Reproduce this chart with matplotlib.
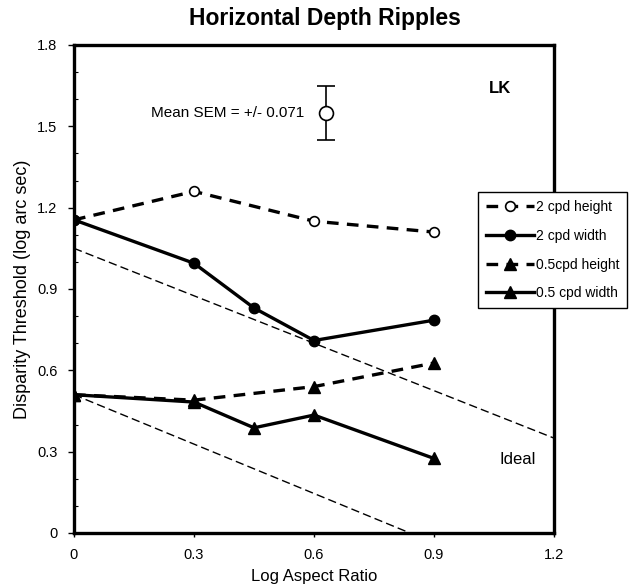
import matplotlib
matplotlib.use("Agg")
import matplotlib.pyplot as plt
from matplotlib.ticker import MultipleLocator

plt.rcParams['font.family'] = ['Liberation Sans', 'DejaVu Sans']

# Data
x_h2 = [0, 0.3, 0.6, 0.9]
y_h2 = [1.155, 1.26, 1.15, 1.11]
x_w2 = [0, 0.3, 0.45, 0.6, 0.9]
y_w2 = [1.155, 0.995, 0.83, 0.71, 0.785]
x_h05 = [0, 0.3, 0.6, 0.9]
y_h05 = [0.51, 0.49, 0.54, 0.627]
x_w05 = [0, 0.3, 0.45, 0.6, 0.9]
y_w05 = [0.51, 0.483, 0.388, 0.435, 0.275]
ideal_upper_x = [0, 1.2]
ideal_upper_y = [1.05, 0.35]
ideal_lower_x = [0, 0.84]
ideal_lower_y = [0.51, 0.0]
sem_x = [0.63]
sem_y = [1.548]
sem_err = [0.1]

fig = plt.figure(figsize=(6.34, 5.87), dpi=100)
ax = fig.add_axes([74/634, 1-533/587, 480/634, 488/587])

lw = 2.4
ax.plot(ideal_upper_x, ideal_upper_y, color='black', lw=1.0, dashes=(6, 3))
ax.plot(ideal_lower_x, ideal_lower_y, color='black', lw=1.0, dashes=(6, 3))

ax.plot(x_h2, y_h2, color='black', lw=lw, dashes=(3.5, 2.5), marker='o',
        markerfacecolor='white', markeredgecolor='black', markersize=7, mew=1.2,
        label='2 cpd height', zorder=3)
ax.plot(x_w2, y_w2, color='black', lw=lw, marker='o', markersize=7.5,
        label='2 cpd width', zorder=3)
ax.plot(x_h05, y_h05, color='black', lw=lw, dashes=(3.5, 2.5), marker='^',
        markersize=8.5, label='0.5cpd height', zorder=3)
ax.plot(x_w05, y_w05, color='black', lw=lw, marker='^', markersize=8.5,
        label='0.5 cpd width', zorder=3)

ax.errorbar(sem_x, sem_y, yerr=sem_err, fmt='o', color='black',
            markerfacecolor='white', markersize=10, mew=1.2, elinewidth=1.2,
            capsize=6.5, capthick=1.2)
ax.text(0.575, 1.548, 'Mean SEM = +/- 0.071', ha='right', va='center', fontsize=11)
ax.text(1.065, 1.64, 'LK', ha='center', va='center', fontsize=12, fontweight='bold')
ax.text(1.11, 0.27, 'Ideal', ha='center', va='center', fontsize=12)

ax.set_xlim(0, 1.2)
ax.set_ylim(0, 1.8)
ax.set_xticks([0, 0.3, 0.6, 0.9, 1.2])
ax.set_xticklabels(['0', '0.3', '0.6', '0.9', '1.2'])
ax.set_yticks([0, 0.3, 0.6, 0.9, 1.2, 1.5, 1.8])
ax.set_yticklabels(['0', '0.3', '0.6', '0.9', '1.2', '1.5', '1.8'])
ax.yaxis.set_minor_locator(MultipleLocator(0.1))
ax.tick_params(axis='both', which='major', labelsize=10.5, length=4, width=1, direction='out', pad=8)
ax.tick_params(axis='y', which='minor', length=3, width=0.8, direction='in')
ax.tick_params(axis='x', which='major', length=3, direction='out', pad=8)
for s in ax.spines.values():
    s.set_linewidth(2.4)

ax.set_xlabel('Log Aspect Ratio', fontsize=12, labelpad=5)
ax.set_ylabel('Disparity Threshold (log arc sec)', fontsize=13, labelpad=4)
fig.text(325/634, 1-19/587, 'Horizontal Depth Ripples', ha='center', va='center',
         fontsize=16.5, fontweight='bold')

leg = ax.legend(loc='upper left', bbox_to_anchor=(478/634, 1-192/587),
                bbox_transform=fig.transFigure, fontsize=10, frameon=True,
                fancybox=False, edgecolor='black', framealpha=1, labelspacing=1.05,
                handlelength=3.4, handletextpad=0.15, borderpad=0.6, borderaxespad=0)
leg.get_frame().set_linewidth(1.0)

fig.savefig('out.png', dpi=100)
